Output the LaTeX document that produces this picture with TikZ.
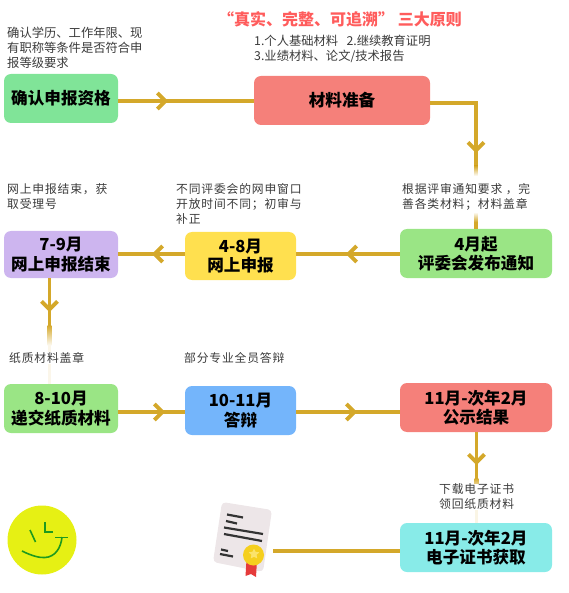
\documentclass[tikz,border=0pt]{standalone}
\usepackage{fontspec}
\setmainfont{Noto Sans CJK SC}
\newfontfamily\spaced[LetterSpace=7]{Noto Sans CJK SC}
\usetikzlibrary{arrows.meta,decorations.markings,shapes.geometric}
\definecolor{flowC}{HTML}{D4A82A}
\definecolor{noteC}{HTML}{3A3A3A}
\definecolor{greenA}{HTML}{80E498}
\definecolor{greenB}{HTML}{9AE585}
\definecolor{coralC}{HTML}{F5807A}
\definecolor{yellowC}{HTML}{FFE04F}
\definecolor{purpleC}{HTML}{CDB5EF}
\definecolor{blueC}{HTML}{74B5FB}
\definecolor{cyanC}{HTML}{88EBE8}
\definecolor{redT}{HTML}{FF5C5C}
\definecolor{logoC}{HTML}{E6F014}
\definecolor{logoG}{HTML}{1E9A1E}
\definecolor{paperC}{HTML}{EDE6E8}
\definecolor{inkC}{HTML}{333333}
\definecolor{ribbonC}{HTML}{E53B3B}
\definecolor{medalC}{HTML}{F5CF1E}
\definecolor{medalD}{HTML}{FBE36A}
\tikzset{
  x=1pt,y=-1pt,
  stage/.style={rounded corners=7pt,inner sep=0pt,align=center,
    font=\fontsize{16.6}{19.5}\selectfont\bfseries,text=black},
  flow/.style={draw=flowC,line width=3.5pt},
  chev/.style={postaction={decorate,decoration={markings,
    mark=at position #1 with {\arrow[flowC]{Straight Barb[length=8pt,width=16pt,line width=4pt]}}}}},
  note/.style={inner sep=0pt,align=left,anchor=west,text=noteC},
  topnote/.style={note,font=\fontsize{12.3}{15}\selectfont},
  lownote/.style={note,font=\spaced\fontsize{11.8}{15}\selectfont},
  inkline/.style={draw=inkC,line width=2.2pt},
  smile/.style={draw=logoG,line width=1.6pt}
}
\newcommand{\stagebox}[7]{% name, x0, y0, x1, y1, colour, text
  \node[stage,fill=#6,minimum width={(#4-#2)*1pt},minimum height={(#5-#3)*1pt}]
    (#1) at ({(#2+#4)/2},{(#3+#5)/2}) {#7};}
\begin{document}
\begin{tikzpicture}
\useasboundingbox (0,0) rectangle (568,593);
% stages
\stagebox{qual}{4}{74}{118}{123}{greenA}{确认申报资格}
\stagebox{prep}{254}{76}{430}{125}{coralC}{材料准备}
\stagebox{notice}{400}{229}{552}{278}{greenB}{4月起\\评委会发布通知}
\stagebox{online}{185}{232}{296}{280}{yellowC}{4-8月\\网上申报}
\stagebox{closed}{4}{231}{118}{278}{purpleC}{7-9月\\网上申报结束}
\stagebox{paper}{4}{384}{118}{433}{greenB}{8-10月\\递交纸质材料}
\stagebox{defence}{185}{386}{296}{435}{blueC}{10-11月\\答辩}
\stagebox{result}{400}{383}{552}{432}{coralC}{11月-次年2月\\公示结果}
\stagebox{cert}{400}{523}{552}{572}{cyanC}{11月-次年2月\\电子证书获取}
\coordinate (certicon) at (273,551);
% connectors
\draw[flow,chev=50pt] (qual.east |- 0,101) -- (prep.west |- 0,101);
\draw[flow,chev=96pt] (prep.east |- 0,103) -- (476,103) -- (notice.north -| 476,0);
\draw[flow,chev=54pt] (notice.west |- 0,254) -- (online.east |- 0,254);
\draw[flow,chev=33pt] (online.west |- 0,254) -- (closed.east |- 0,254);
\draw[flow,chev=34pt] (closed.south -| 49.5,0) -- (paper.north -| 49.5,0);
\draw[flow,chev=47pt] (paper.east |- 0,412) -- (defence.west |- 0,412);
\draw[flow,chev=61pt] (defence.east |- 0,412) -- (result.west |- 0,412);
\draw[flow,chev=33pt] (result.south -| 476.5,0) -- (cert.north -| 476.5,0);
\draw[flow] (cert.west |- 0,551) -- (certicon);
% faded stretches of the vertical connectors
\fill[white] (473,176) rectangle (480,214);
\shade[top color=flowC,bottom color=white,draw=none] (474.2,166) rectangle (477.8,176);
\shade[top color=white,bottom color=flowC,draw=none] (474.2,212) rectangle (477.8,222);
\fill[white] (47,345) rectangle (52,384);
\shade[top color=flowC,bottom color=flowC!8!white,draw=none] (47.7,325) rectangle (51.3,345);
\fill[flowC!10!white] (47.7,345) rectangle (51.3,384);
\fill[white] (474,484) rectangle (479,523);
\shade[top color=flowC,bottom color=flowC!8!white,draw=none] (474.7,478) rectangle (478.3,490);
\fill[flowC!12!white] (474.7,510) rectangle (478.3,523);
% heading and notes
\node[inner sep=0pt,text=redT,font=\fontsize{16}{19}\selectfont\bfseries] (head) at (340,19) {“真实、完整、可追溯”\ 三大原则};
\node[topnote] (n1) at (7,48) {确认学历、工作年限、现\\有职称等条件是否符合申\\报等级要求};
\node[topnote] (n2) at (254,48.5) {1.个人基础材料\ \ \ 2.继续教育证明\\3.业绩材料、论文/技术报告};
\node[lownote] (n3) at (7,196.5) {网上申报结束，获\\取受理号};
\node[lownote] (n4) at (176,204) {不同评委会的网申窗口\\开放时间不同；初审与\\补正};
\node[lownote,fill=white] (n5) at (402,196.5) {根据评审通知要求\ ，完\\善各类材料；材料盖章};
\node[lownote,fill=white] (n6) at (9,358) {纸质材料盖章};
\node[lownote] (n7) at (184,358) {部分专业全员答辩};
\node[lownote,fill=white] (n8) at (439,496.5) {下载电子证书\\领回纸质材料};
% logo
\fill[logoC] (42,540) circle (34.5);
\draw[smile] (30,530) -- (35.5,542);
\draw[smile] (45,522) -- (45,532) -- (53,532);
\draw[smile] (22,551) .. controls (32,556) and (40,558) .. (45,557.5) .. controls (55,557) and (61,548) .. (62,537);
\draw[smile] (55,537.5) -- (68,537.5);
% certificate
\fill[paperC,rounded corners=4pt] (222,502) -- (272,510) -- (263,572) -- (213,562) -- cycle;
\draw[inkline] (227,514.5) -- (243,517.5);
\draw[inkline] (226,521) -- (237,523.5);
\draw[inkline] (224,527.5) -- (263,534);
\draw[inkline] (224,534) -- (262,541);
\draw[inkline] (221,549.5) -- (228,551);
\draw[inkline] (220,554) -- (233,556.5);
\fill[ribbonC] (246.5,560) -- (257,560) -- (256,577) -- (251,574) -- (245.5,576) -- cycle;
\fill[medalC] (253.5,555) circle (10.5);
\node[star,star points=5,star point ratio=2,fill=medalD,minimum size=11pt,inner sep=0pt] (medalstar) at (254,554) {};
\end{tikzpicture}
\end{document}
